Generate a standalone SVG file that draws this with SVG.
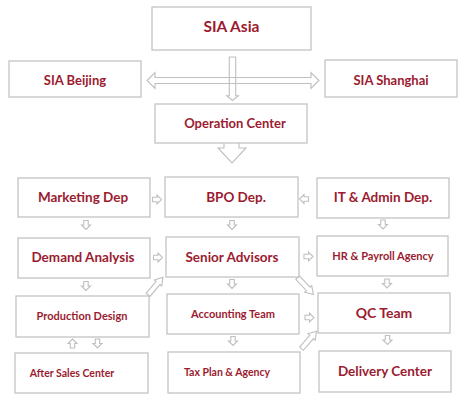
<svg xmlns="http://www.w3.org/2000/svg" xmlns:xlink="http://www.w3.org/1999/xlink" width="466" height="400" viewBox="0 0 466 400">
<defs>
<style>
.box{fill:#fff;stroke:#c4c4c4;stroke-width:1.3}
.t{font-family:Lato,"Open Sans","Liberation Sans",sans-serif;font-weight:bold;fill:#9b1b30;text-anchor:middle}
.ar{fill:#fff;stroke:#bfbfbf;stroke-width:1.1;stroke-linejoin:miter}
.arn{fill:none;stroke:#bfbfbf;stroke-width:1.1}
</style>
<path id="sdn" d="M-2.2,-4.5 H2.2 V0 H4.5 L0,4.5 L-4.5,0 H-2.2 Z"/>
<path id="diag" d="M-11.5,-2.5 H4 V-4.8 L11.5,0 L4,4.8 V2.5 H-11.5 Z"/>
</defs>
<rect width="466" height="400" fill="#fff"/>
<g id="connectors">
<path class="arn" d="M147,80.5 L155,72.5 V77.5 H311 V72.5 L319,80.5 L311,88.5 V83.5 H155 V88.5 Z"/>
<path class="arn" d="M229.3,57 H235.7 V95.7 H238.3 L232.5,100.5 L226.7,95.7 H229.3 Z"/>
<path class="ar" d="M224,143 V148 H218 L232,163 L246,148 H239 V143"/>
<use href="#sdn" class="ar" transform="translate(157,199.5) rotate(-90)"/>
<use href="#sdn" class="ar" transform="translate(304,199) rotate(90)"/>
<use href="#sdn" class="ar" transform="translate(86,225)"/>
<use href="#sdn" class="ar" transform="translate(232,225)"/>
<use href="#sdn" class="ar" transform="translate(383,224.5)"/>
<use href="#sdn" class="ar" transform="translate(158,257.5) rotate(-90)"/>
<use href="#sdn" class="ar" transform="translate(308.5,256.5) rotate(-90)"/>
<use href="#sdn" class="ar" transform="translate(86,286)"/>
<use href="#sdn" class="ar" transform="translate(232,284)"/>
<use href="#sdn" class="ar" transform="translate(387,283.5)"/>
<use href="#sdn" class="ar" transform="translate(309.5,317.5) rotate(-90)"/>
<use href="#sdn" class="ar" transform="translate(233,341)"/>
<use href="#sdn" class="ar" transform="translate(387.5,340)"/>
<use href="#sdn" class="ar" transform="translate(72.5,343.5) rotate(180)"/>
<use href="#sdn" class="ar" transform="translate(97.5,343.5)"/>
<use href="#diag" class="ar" transform="translate(155.5,286) rotate(-50)"/>
<use href="#diag" class="ar" transform="translate(305.5,286) rotate(47)"/>
<use href="#diag" class="ar" transform="translate(309,340) rotate(-49)"/>
</g>
<g id="sia-asia"><rect class="box" x="152" y="7" width="159" height="43"/><text class="t" x="231.5" y="32" font-size="15.5">SIA Asia</text></g>
<g id="sia-beijing"><rect class="box" x="9" y="61" width="132" height="36"/><text class="t" x="75" y="85" font-size="13">SIA Beijing</text></g>
<g id="sia-shanghai"><rect class="box" x="325" y="60" width="132" height="37"/><text class="t" x="391" y="85" font-size="13">SIA Shanghai</text></g>
<g id="operation-center"><rect class="box" x="155" y="104" width="152" height="39"/><text class="t" x="235" y="128" font-size="13">Operation Center</text></g>
<g id="marketing-dep"><rect class="box" x="18" y="178" width="132" height="39"/><text class="t" x="83" y="201.5" font-size="13.5">Marketing Dep</text></g>
<g id="bpo-dep"><rect class="box" x="165" y="177" width="133" height="40"/><text class="t" x="236" y="201.5" font-size="13.5">BPO Dep.</text></g>
<g id="it-admin-dep"><rect class="box" x="317" y="178" width="132" height="40"/><text class="t" x="383" y="202" font-size="13.5">IT &amp; Admin Dep.</text></g>
<g id="demand-analysis"><rect class="box" x="18" y="238" width="132" height="40"/><text class="t" x="83" y="262" font-size="13.5">Demand Analysis</text></g>
<g id="senior-advisors"><rect class="box" x="166" y="237" width="133" height="40"/><text class="t" x="232" y="262" font-size="13.5">Senior Advisors</text></g>
<g id="hr-payroll"><rect class="box" x="317" y="236" width="131" height="40"/><text class="t" x="383" y="259.5" font-size="11">HR &amp; Payroll Agency</text></g>
<g id="production-design"><rect class="box" x="16" y="296" width="133" height="41"/><text class="t" x="82" y="319.5" font-size="11">Production Design</text></g>
<g id="accounting-team"><rect class="box" x="167" y="294" width="132" height="40"/><text class="t" x="233" y="317.5" font-size="11">Accounting Team</text></g>
<g id="qc-team"><rect class="box" x="318" y="293" width="132" height="40"/><text class="t" x="384" y="318" font-size="14">QC Team</text></g>
<g id="after-sales"><rect class="box" x="15" y="353" width="133" height="40"/><text class="t" x="72" y="376.5" font-size="10.5">After Sales Center</text></g>
<g id="tax-plan"><rect class="box" x="168" y="352" width="132" height="41"/><text class="t" x="227" y="375.5" font-size="10.5">Tax Plan &amp; Agency</text></g>
<g id="delivery-center"><rect class="box" x="319" y="351" width="132" height="41"/><text class="t" x="385" y="376" font-size="13.5">Delivery Center</text></g>
</svg>
